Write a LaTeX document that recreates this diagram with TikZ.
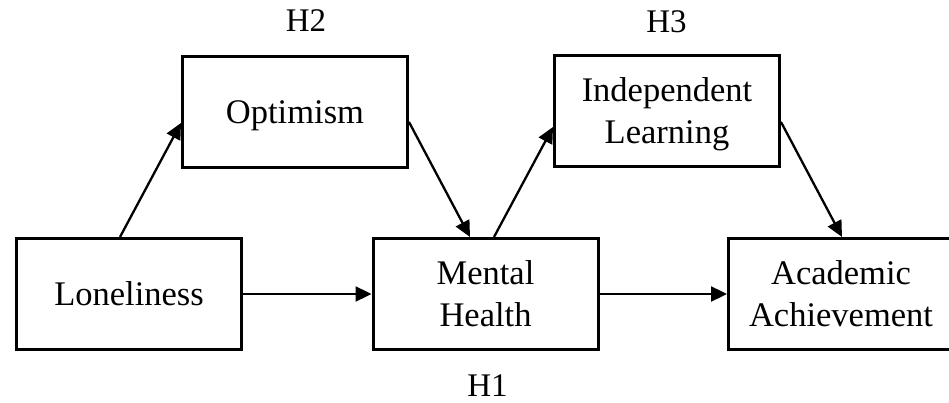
\documentclass[tikz,border=0pt]{standalone}
\usepackage{fontspec}
\setmainfont{Liberation Serif}
\usetikzlibrary{arrows.meta,calc}

\begin{document}
\begin{tikzpicture}[x=1pt, y=-1pt,
  box/.style={draw, line width=3pt, minimum width=225pt, minimum height=111pt,
    inner sep=0pt, align=center, text depth=0pt, font=\fontsize{34.5}{42}\selectfont},
  link/.style={line width=2.3pt, -{Triangle[length=16pt, width=15pt]}},
  hyp/.style={text depth=0pt, font=\fontsize{33}{38}\selectfont}]

  % page frame
  \useasboundingbox (0,0) rectangle (949,403);

  % the five variables
  \node[box] (lone) at (129, 294) {Loneliness};
  \node[box] (opt) at (295, 112.5) {Optimism};
  \node[box] (mh) at (485.5, 294) {Mental\\Health};
  \node[box] (il) at (667, 111) {Independent\\Learning};
  \node[box] (aa) at (841, 294) {Academic\\Achievement};

  % direct paths
  \draw[link] (lone.east) -- (mh.west);
  \draw[link] (mh.east) -- (aa.west);

  % mediated paths
  \draw[link] ([xshift=-9pt]lone.north) -- ([yshift=-10.5pt]opt.west);
  \draw[link] ([yshift=-9.5pt]opt.east) -- ([xshift=-15.5pt]mh.north);
  \draw[link] ([xshift=8.5pt]mh.north) -- ([yshift=-16pt]il.west);
  \draw[link] ([yshift=-11pt]il.east) -- ([xshift=1pt]aa.north);

  % hypothesis labels
  \node[hyp] (h2) at (306, 21) {H2};
  \node[hyp] (h3) at (666.5, 22) {H3};
  \node[hyp] (h1) at (487.5, 386) {H1};

\end{tikzpicture}
\end{document}
